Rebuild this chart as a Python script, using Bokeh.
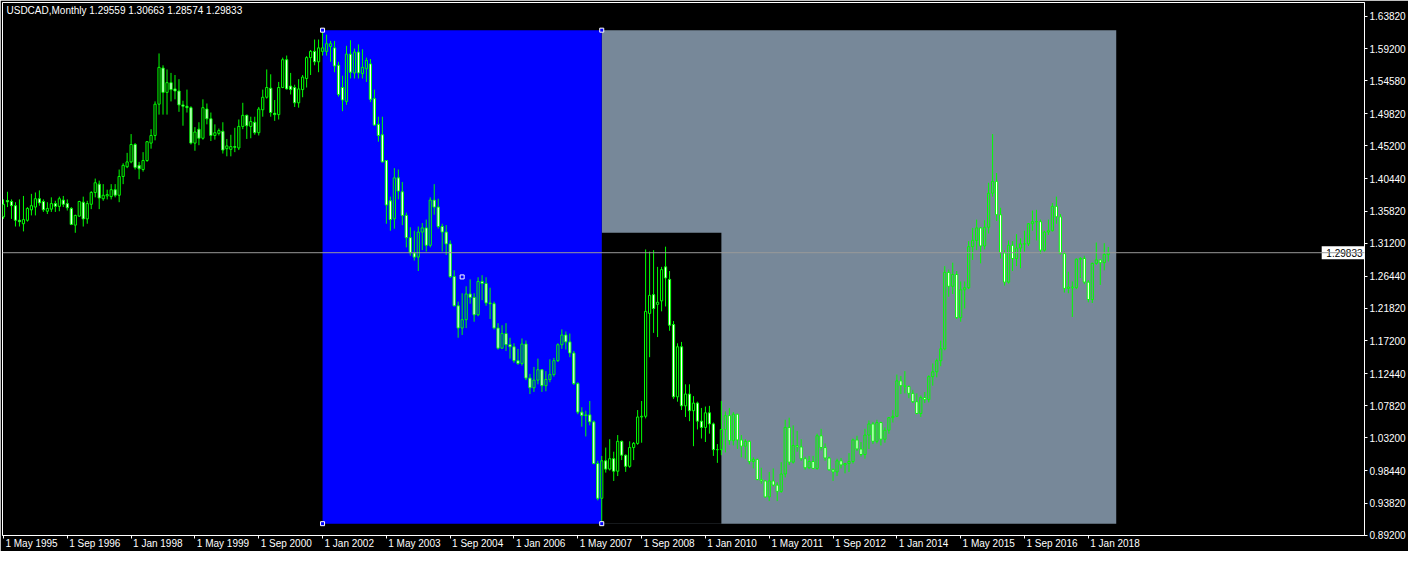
import numpy as np
from bokeh.plotting import figure
from bokeh.models import FixedTicker, PrintfTickFormatter, Label, Span, ColumnDataSource, Range1d
from bokeh.core.properties import value
from bokeh.embed import file_html
from bokeh.resources import INLINE

symbol = "USDCAD"
period = "Monthly"
first_year, first_month = 1995, 5   # first bar: May 1995, one bar per month

# monthly OHLC, May 1995 .. Jun 2018
opens = [
    1.350, 1.3735, 1.372, 1.366, 1.345, 1.340, 1.345, 1.360,
    1.364, 1.376, 1.372, 1.358, 1.361, 1.369, 1.365, 1.374, 1.369, 1.362, 1.338, 1.351,
    1.371, 1.347, 1.368, 1.385, 1.397, 1.376, 1.380, 1.379, 1.389, 1.381, 1.408, 1.422,
    1.429, 1.454, 1.424, 1.418, 1.431, 1.456, 1.467, 1.512, 1.564, 1.529, 1.543, 1.534,
    1.531, 1.511, 1.509, 1.507, 1.456, 1.476, 1.463, 1.505, 1.491, 1.467, 1.470, 1.473,
    1.448, 1.447, 1.451, 1.449, 1.480, 1.496, 1.480, 1.486, 1.471, 1.504, 1.522, 1.535,
    1.499, 1.497, 1.536, 1.576, 1.538, 1.536, 1.514, 1.533, 1.549, 1.579, 1.588, 1.573,
    1.588, 1.588, 1.595, 1.593, 1.568, 1.536, 1.516, 1.584, 1.557, 1.587, 1.556, 1.563,
    1.570, 1.520, 1.483, 1.468, 1.431, 1.373, 1.347, 1.406, 1.386, 1.352, 1.320, 1.298,
    1.292, 1.328, 1.334, 1.309, 1.374, 1.364, 1.336, 1.328, 1.311, 1.264, 1.222, 1.190,
    1.202, 1.239, 1.234, 1.209, 1.257, 1.254, 1.226, 1.225, 1.190, 1.161, 1.182, 1.166,
    1.163, 1.143, 1.139, 1.167, 1.118, 1.104, 1.115, 1.130, 1.107, 1.116, 1.123, 1.143,
    1.166, 1.180, 1.170, 1.154, 1.110, 1.069, 1.064, 1.065, 1.055, 0.995, 0.945, 0.999,
    0.987, 1.002, 0.984, 1.027, 1.007, 0.991, 1.018, 1.024, 1.062, 1.063, 1.211, 1.238,
    1.224, 1.229, 1.278, 1.260, 1.195, 1.091, 1.163, 1.078, 1.095, 1.071, 1.082, 1.056,
    1.047, 1.068, 1.052, 1.015, 1.015, 1.044, 1.064, 1.028, 1.066, 1.029, 1.020, 1.027,
    0.998, 1.001, 0.972, 0.970, 0.947, 0.970, 0.964, 0.955, 0.980, 1.047, 0.997, 1.021,
    1.019, 1.002, 0.989, 0.998, 0.988, 1.035, 1.018, 1.003, 0.986, 0.983, 0.999, 0.993,
    0.995, 0.998, 1.029, 1.016, 1.008, 1.036, 1.052, 1.027, 1.054, 1.030, 1.043, 1.061,
    1.063, 1.114, 1.107, 1.106, 1.096, 1.084, 1.067, 1.090, 1.087, 1.120, 1.127, 1.143,
    1.160, 1.270, 1.250, 1.267, 1.205, 1.245, 1.248, 1.307, 1.316, 1.334, 1.308, 1.335,
    1.384, 1.401, 1.353, 1.298, 1.256, 1.309, 1.290, 1.305, 1.311, 1.311, 1.340, 1.343,
    1.343, 1.302, 1.328, 1.330, 1.365, 1.350, 1.297, 1.247, 1.249, 1.248, 1.289, 1.290,
    1.256, 1.231, 1.283, 1.288, 1.284, 1.29559,
]
highs = [
    1.375, 1.386, 1.375, 1.371, 1.375, 1.380, 1.364, 1.383,
    1.385, 1.388, 1.375, 1.371, 1.378, 1.373, 1.379, 1.380, 1.375, 1.364, 1.353, 1.373,
    1.379, 1.373, 1.387, 1.405, 1.402, 1.397, 1.389, 1.397, 1.397, 1.418, 1.427, 1.442,
    1.469, 1.456, 1.429, 1.443, 1.459, 1.476, 1.516, 1.585, 1.568, 1.562, 1.557, 1.554,
    1.548, 1.517, 1.533, 1.509, 1.479, 1.486, 1.519, 1.513, 1.500, 1.483, 1.477, 1.486,
    1.462, 1.468, 1.478, 1.490, 1.514, 1.497, 1.494, 1.494, 1.508, 1.533, 1.562, 1.555,
    1.518, 1.544, 1.579, 1.582, 1.557, 1.540, 1.548, 1.554, 1.581, 1.590, 1.605, 1.605,
    1.619, 1.612, 1.603, 1.603, 1.573, 1.553, 1.596, 1.604, 1.592, 1.598, 1.591, 1.579,
    1.577, 1.533, 1.494, 1.494, 1.431, 1.379, 1.420, 1.418, 1.400, 1.356, 1.335, 1.330,
    1.336, 1.341, 1.346, 1.378, 1.397, 1.376, 1.340, 1.338, 1.316, 1.273, 1.228, 1.240,
    1.250, 1.260, 1.240, 1.263, 1.266, 1.263, 1.248, 1.228, 1.197, 1.194, 1.197, 1.176,
    1.168, 1.160, 1.175, 1.172, 1.124, 1.134, 1.146, 1.131, 1.128, 1.145, 1.147, 1.168,
    1.188, 1.185, 1.182, 1.157, 1.112, 1.076, 1.071, 1.085, 1.057, 0.999, 1.006, 1.018,
    1.030, 1.012, 1.036, 1.028, 1.008, 1.027, 1.026, 1.072, 1.085, 1.303, 1.300, 1.302,
    1.278, 1.278, 1.307, 1.272, 1.200, 1.168, 1.170, 1.109, 1.109, 1.092, 1.084, 1.075,
    1.077, 1.078, 1.054, 1.023, 1.085, 1.070, 1.075, 1.069, 1.066, 1.036, 1.030, 1.028,
    1.004, 1.002, 0.989, 0.971, 0.983, 0.988, 0.968, 0.997, 1.058, 1.061, 1.050, 1.042,
    1.030, 1.005, 1.006, 1.006, 1.038, 1.045, 1.024, 1.005, 0.988, 1.002, 1.003, 0.996,
    1.010, 1.031, 1.035, 1.026, 1.045, 1.057, 1.055, 1.058, 1.055, 1.047, 1.062, 1.072,
    1.123, 1.121, 1.128, 1.107, 1.101, 1.096, 1.093, 1.098, 1.122, 1.139, 1.146, 1.172,
    1.279, 1.274, 1.284, 1.272, 1.257, 1.257, 1.315, 1.334, 1.346, 1.335, 1.345, 1.399,
    1.469, 1.413, 1.363, 1.302, 1.316, 1.315, 1.325, 1.319, 1.330, 1.341, 1.359, 1.360,
    1.346, 1.330, 1.346, 1.370, 1.379, 1.354, 1.300, 1.271, 1.257, 1.290, 1.292, 1.294,
    1.259, 1.284, 1.313, 1.289, 1.312, 1.30663,
]
lows = [
    1.347, 1.364, 1.347, 1.336, 1.336, 1.329, 1.343, 1.352,
    1.352, 1.366, 1.357, 1.354, 1.357, 1.357, 1.358, 1.364, 1.359, 1.338, 1.327, 1.350,
    1.336, 1.340, 1.361, 1.378, 1.361, 1.373, 1.375, 1.375, 1.378, 1.371, 1.397, 1.420,
    1.427, 1.418, 1.404, 1.415, 1.429, 1.448, 1.460, 1.497, 1.497, 1.497, 1.516, 1.519,
    1.501, 1.481, 1.500, 1.454, 1.445, 1.453, 1.461, 1.483, 1.459, 1.461, 1.467, 1.441,
    1.437, 1.437, 1.443, 1.446, 1.476, 1.462, 1.463, 1.468, 1.467, 1.494, 1.520, 1.494,
    1.488, 1.490, 1.535, 1.533, 1.526, 1.508, 1.507, 1.522, 1.536, 1.554, 1.568, 1.558,
    1.582, 1.582, 1.573, 1.558, 1.523, 1.502, 1.511, 1.549, 1.549, 1.549, 1.549, 1.544,
    1.515, 1.481, 1.458, 1.428, 1.340, 1.330, 1.333, 1.375, 1.338, 1.306, 1.294, 1.287,
    1.272, 1.302, 1.300, 1.306, 1.353, 1.333, 1.300, 1.295, 1.262, 1.221, 1.176, 1.180,
    1.190, 1.225, 1.199, 1.207, 1.230, 1.222, 1.203, 1.188, 1.159, 1.160, 1.157, 1.146,
    1.140, 1.137, 1.136, 1.115, 1.095, 1.098, 1.109, 1.098, 1.099, 1.112, 1.120, 1.141,
    1.160, 1.159, 1.148, 1.108, 1.066, 1.048, 1.034, 1.050, 0.994, 0.942, 0.906, 0.982,
    0.985, 0.970, 0.977, 1.000, 0.983, 0.989, 1.000, 1.022, 1.025, 1.060, 1.148, 1.183,
    1.177, 1.214, 1.221, 1.186, 1.088, 1.084, 1.072, 1.062, 1.056, 1.020, 1.044, 1.031,
    1.026, 1.038, 1.006, 0.996, 1.007, 1.011, 1.022, 1.021, 1.016, 1.004, 1.002, 0.994,
    0.988, 0.971, 0.966, 0.946, 0.941, 0.962, 0.941, 0.953, 0.975, 0.993, 0.995, 1.012,
    0.999, 0.986, 0.987, 0.987, 0.986, 1.014, 0.999, 0.985, 0.970, 0.977, 0.988, 0.981,
    0.983, 0.995, 1.013, 1.005, 1.002, 1.016, 1.023, 1.024, 1.021, 1.025, 1.038, 1.054,
    1.062, 1.095, 1.096, 1.089, 1.082, 1.066, 1.062, 1.082, 1.083, 1.107, 1.119, 1.135,
    1.158, 1.235, 1.239, 1.203, 1.199, 1.218, 1.246, 1.288, 1.302, 1.283, 1.303, 1.326,
    1.379, 1.344, 1.290, 1.251, 1.254, 1.272, 1.279, 1.276, 1.300, 1.308, 1.330, 1.316,
    1.297, 1.300, 1.324, 1.329, 1.340, 1.296, 1.241, 1.240, 1.206, 1.246, 1.262, 1.253,
    1.227, 1.226, 1.281, 1.252, 1.273, 1.28574,
]
closes = [
    1.368, 1.3715, 1.366, 1.345, 1.343, 1.346, 1.362, 1.366,
    1.376, 1.370, 1.360, 1.362, 1.369, 1.365, 1.376, 1.368, 1.363, 1.339, 1.352, 1.372,
    1.347, 1.369, 1.385, 1.399, 1.377, 1.381, 1.382, 1.389, 1.381, 1.408, 1.424, 1.429,
    1.454, 1.421, 1.419, 1.431, 1.458, 1.467, 1.512, 1.565, 1.529, 1.543, 1.533, 1.531,
    1.511, 1.509, 1.507, 1.456, 1.472, 1.463, 1.507, 1.491, 1.467, 1.471, 1.474, 1.446,
    1.452, 1.451, 1.450, 1.480, 1.496, 1.481, 1.487, 1.471, 1.505, 1.522, 1.536, 1.500,
    1.497, 1.536, 1.576, 1.534, 1.533, 1.514, 1.534, 1.551, 1.579, 1.588, 1.573, 1.593,
    1.593, 1.599, 1.599, 1.567, 1.526, 1.518, 1.584, 1.558, 1.587, 1.557, 1.565, 1.575,
    1.519, 1.482, 1.467, 1.429, 1.367, 1.346, 1.406, 1.387, 1.352, 1.320, 1.298, 1.292,
    1.328, 1.334, 1.309, 1.374, 1.364, 1.336, 1.328, 1.311, 1.264, 1.222, 1.190, 1.202,
    1.239, 1.234, 1.209, 1.257, 1.254, 1.226, 1.225, 1.190, 1.161, 1.182, 1.166, 1.163,
    1.143, 1.139, 1.167, 1.118, 1.104, 1.115, 1.130, 1.107, 1.116, 1.123, 1.143, 1.166,
    1.180, 1.170, 1.154, 1.110, 1.069, 1.064, 1.065, 1.055, 0.995, 0.945, 0.999, 0.987,
    1.002, 0.984, 1.027, 1.007, 0.991, 1.018, 1.024, 1.062, 1.063, 1.214, 1.237, 1.218,
    1.227, 1.274, 1.262, 1.194, 1.091, 1.163, 1.078, 1.095, 1.071, 1.082, 1.056, 1.047,
    1.068, 1.052, 1.015, 1.015, 1.044, 1.064, 1.028, 1.066, 1.029, 1.020, 1.027, 0.998,
    1.001, 0.972, 0.970, 0.947, 0.970, 0.964, 0.955, 0.980, 1.047, 0.997, 1.021, 1.019,
    1.002, 0.989, 0.998, 0.988, 1.035, 1.018, 1.003, 0.986, 0.983, 0.999, 0.993, 0.995,
    0.998, 1.029, 1.016, 1.008, 1.036, 1.052, 1.027, 1.054, 1.030, 1.043, 1.061, 1.063,
    1.114, 1.107, 1.106, 1.096, 1.084, 1.067, 1.090, 1.087, 1.120, 1.127, 1.143, 1.160,
    1.270, 1.250, 1.267, 1.205, 1.245, 1.248, 1.307, 1.316, 1.334, 1.308, 1.335, 1.384,
    1.401, 1.353, 1.298, 1.256, 1.309, 1.290, 1.305, 1.311, 1.311, 1.340, 1.343, 1.343,
    1.302, 1.328, 1.330, 1.365, 1.350, 1.297, 1.247, 1.249, 1.248, 1.289, 1.290, 1.256,
    1.231, 1.283, 1.288, 1.284, 1.296, 1.29833,
]

x_tick_labels = ["1 May 1995", "1 Sep 1996", "1 Jan 1998", "1 May 1999", "1 Sep 2000",
                 "1 Jan 2002", "1 May 2003", "1 Sep 2004", "1 Jan 2006", "1 May 2007",
                 "1 Sep 2008", "1 Jan 2010", "1 May 2011", "1 Sep 2012", "1 Jan 2014",
                 "1 May 2015", "1 Sep 2016", "1 Jan 2018"]
price_ticks = [1.63820, 1.59200, 1.54580, 1.49820, 1.45200, 1.40440, 1.35820, 1.31200,
               1.26440, 1.21820, 1.17200, 1.12440, 1.07820, 1.03200, 0.98440, 0.93820, 0.89200]

# rectangle objects (drawn in the background): gray, black, blue
box_colors = ["#778899", "#000000", "#0000ff"]
box_start = [(2007, 11), (2007, 11), (2002, 1)]
box_end = [(2018, 8), (2010, 5), (2007, 11)]
box_top = [1.6185, 1.3270, 1.6185]
box_bottom = [0.9085, 0.9085, 0.9085]

MONTHS = ["Jan", "Feb", "Mar", "Apr", "May", "Jun", "Jul", "Aug", "Sep", "Oct", "Nov", "Dec"]
FONT = "Liberation Sans"
FS = 10  # px


def bar_index(ym):
    y, m = ym
    return (y - first_year) * 12 + (m - first_month)


def label_index(lbl):
    _, mon, yr = lbl.split()
    return bar_index((int(yr), MONTHS.index(mon) + 1))


# approximate Liberation Sans advance widths (em) to left-align the date labels on their ticks
CHAR_W = {" ": 0.278, "M": 0.833, "S": 0.667, "J": 0.5, "a": 0.556, "y": 0.5,
          "e": 0.556, "p": 0.556, "n": 0.556}


def text_px(s):
    return sum(CHAR_W.get(ch, 0.556) for ch in s) * FS


n = len(closes)
xs = np.arange(n)
o = np.array(opens); h = np.array(highs); l = np.array(lows); c = np.array(closes)
btop = np.maximum(o, c); bbot = np.minimum(o, c)
bull = c >= o

y_lo, y_hi = 0.8915, 1.6583
x_lo, x_hi = -0.25, 341.25
FRAME_W = 1366.0                      # expected frame width in px
FRAME_H = 532.0                       # expected frame height in px
px_per_bar = FRAME_W / (x_hi - x_lo)

p = figure(width=1408, height=551, x_range=Range1d(x_lo, x_hi), y_range=Range1d(y_lo, y_hi),
           y_axis_location="right", output_backend="svg", toolbar_location=None,
           min_border_left=2, min_border_top=2, min_border_right=0, min_border_bottom=0,
           background_fill_color="black", border_fill_color="black",
           outline_line_color="white", outline_line_width=1)
p.grid.visible = False

# background rectangles
bsrc = ColumnDataSource(dict(left=[bar_index(s) for s in box_start],
                             right=[bar_index(e) for e in box_end],
                             top=box_top, bottom=box_bottom, color=box_colors))
p.quad(left="left", right="right", top="top", bottom="bottom", fill_color="color",
       line_color=None, source=bsrc)

# candles
GREEN = "#00ff00"
p.segment(x0=xs, y0=h, x1=xs, y1=btop, line_color=GREEN, line_width=1)
p.segment(x0=xs, y0=bbot, x1=xs, y1=l, line_color=GREEN, line_width=1)
p.vbar(x=xs[bull], width=0.55, top=btop[bull], bottom=bbot[bull],
       fill_alpha=0, line_color=GREEN, line_width=1)
p.vbar(x=xs[~bull], width=0.55, top=btop[~bull], bottom=bbot[~bull],
       fill_color="white", line_color=GREEN, line_width=1)

# handles of the selected blue rectangle
bi = 2
hx0, hx1 = bar_index(box_start[bi]), bar_index(box_end[bi])
hy0, hy1 = box_bottom[bi], box_top[bi]
p.scatter(x=[hx0, hx1, hx0, hx1, (hx0 + hx1) / 2], y=[hy1, hy1, hy0, hy0, (hy0 + hy1) / 2],
          marker="square", size=4, fill_color="#0000ff", line_color="white", line_width=1)

# bid line
bid = closes[-1]
p.add_layout(Span(location=bid, dimension="width", line_color="#9a9a9a", line_width=1))

# x axis: tick marks at the bars (minor ticks), labels placed so they start at the tick
xt = [label_index(s) for s in x_tick_labels]
label_pos = [round(t + (text_px(s) / 2 + 2) / px_per_bar, 2) for t, s in zip(xt, x_tick_labels)]
p.xaxis.ticker = FixedTicker(ticks=label_pos, minor_ticks=xt)
p.xaxis.major_label_overrides = {pos: s for pos, s in zip(label_pos, x_tick_labels)}
p.xaxis.major_label_text_font = FONT
p.xaxis.major_label_text_font_size = f"{FS}px"
p.xaxis.major_label_text_color = "white"
p.xaxis.major_label_standoff = -1
p.xaxis.axis_label_standoff = 0
p.xaxis.axis_line_color = "white"
p.xaxis.major_tick_line_color = None
p.xaxis.major_tick_out = 0
p.xaxis.major_tick_in = 0
p.xaxis.minor_tick_line_color = "white"
p.xaxis.minor_tick_out = 3
p.xaxis.minor_tick_in = 0

# price axis
p.yaxis.ticker = FixedTicker(ticks=price_ticks)
p.yaxis.formatter = PrintfTickFormatter(format="%.5f")
p.yaxis.major_label_text_font = FONT
p.yaxis.major_label_text_font_size = f"{FS}px"
p.yaxis.major_label_text_color = "white"
p.yaxis.axis_line_color = "white"
p.yaxis.major_tick_line_color = "white"
p.yaxis.major_tick_out = 3
p.yaxis.major_tick_in = 0
p.yaxis.minor_tick_line_color = None
p.yaxis.major_label_standoff = 2
p.yaxis.axis_label_standoff = 0

# bid price box at the right edge
box_w = (text_px(f"{bid:.5f}") + 4) / px_per_bar
box_h = 6.5 * (y_hi - y_lo) / FRAME_H
p.quad(left=[x_hi - box_w], right=[x_hi], top=[bid + box_h], bottom=[bid - box_h],
       fill_color="white", line_color=None)
p.text(x=[x_hi], y=[bid], text=[f"{bid:.5f}"], x_offset=-2, text_align="right",
       text_baseline="middle", text_color="black", text_font=value(FONT),
       text_font_size=f"{FS}px")

# header
header = f"{symbol},{period}  {opens[-1]:.5f} {highs[-1]:.5f} {lows[-1]:.5f} {closes[-1]:.5f}"
p.add_layout(Label(x=x_lo, y=y_hi, x_offset=4, y_offset=-2, text=header, text_align="left",
                   text_baseline="top", text_color="white", text_font=FONT,
                   text_font_size=f"{FS}px"))

open("out.html", "w").write(file_html(p, INLINE))
